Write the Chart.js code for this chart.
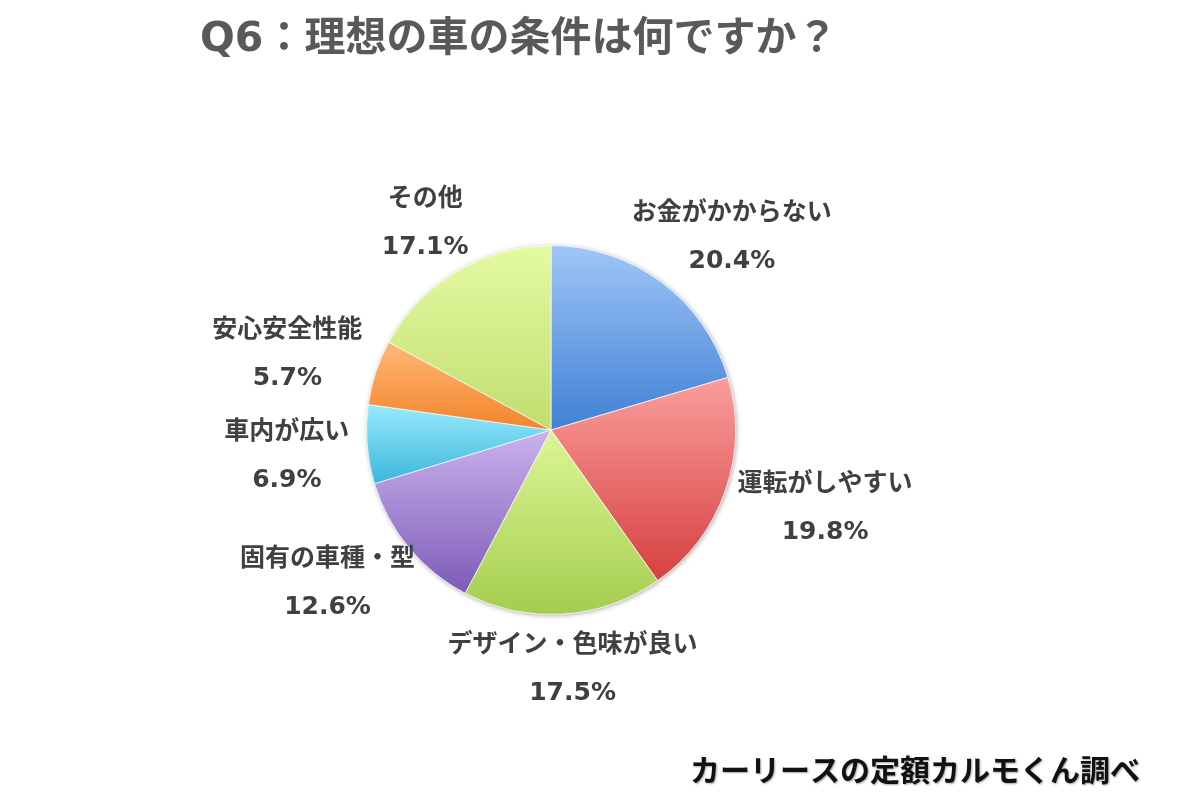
<!DOCTYPE html>
<html>
<head>
<meta charset="utf-8">
<script src="https://cdn.jsdelivr.net/npm/chart.js@4.4.1/dist/chart.umd.min.js"></script>
<style>
	html, body { margin: 0; padding: 0; background: #fff; }
	#wrap { width: 1199px; height: 800px; position: relative; }
</style>
</head>
<body>
<div id="wrap"><canvas id="myChartPie" width="1199" height="800"></canvas></div>
<script>
var titleText = 'Q6：理想の車の条件は何ですか？';
var sourceText = 'カーリースの定額カルモくん調べ';

var categories = ['お金がかからない', '運転がしやすい', 'デザイン・色味が良い', '固有の車種・型', '車内が広い', '安心安全性能', 'その他'];
var percents = [20.4, 19.8, 17.5, 12.6, 6.9, 5.7, 17.1];

// light (top) / dark (bottom) colour of each slice
var topColors = ['#a0c6f8', '#fa9e9c', '#dcf696', '#ccb2ee', '#98eafc', '#ffb878', '#e4faa2'];
var bottomColors = ['#4080d4', '#d64040', '#a4cd4e', '#7c5bb6', '#3cb6dc', '#f2852a', '#c2dd70'];

var labelFont = 'bold 25px "DejaVu Sans", "Noto Sans CJK JP", sans-serif';

var pie = {
	// vertical gradient over the height of one slice
	sliceFill: function (context) {
		var chart = context.chart;
		var i = context.dataIndex;
		var area = chart.chartArea;
		if ( !area ) {
			return bottomColors[i];
		}

		var cx = (area.left + area.right) / 2;
		var cy = (area.top + area.bottom) / 2;
		var r = Math.min(area.right - area.left, area.bottom - area.top) / 2;

		var total = 0, before = 0;
		for (var k = 0; k < percents.length; k++) {
			if ( k < i ) before += percents[k];
			total += percents[k];
		}
		var a0 = before / total * 360;
		var a1 = (before + percents[i]) / total * 360;

		var ys = [cy, cy - r * Math.cos(a0 * Math.PI / 180), cy - r * Math.cos(a1 * Math.PI / 180)];
		if ( a0 <= 0 || a1 >= 360 ) ys.push(cy - r);
		if ( a0 <= 180 && a1 >= 180 ) ys.push(cy + r);

		var g = chart.ctx.createLinearGradient(0, Math.min.apply(null, ys), 0, Math.max.apply(null, ys));
		g.addColorStop(0, topColors[i]);
		g.addColorStop(1, bottomColors[i]);
		return g;
	}, // end - sliceFill

	shadowPlugin: {
		id: 'shadowPlugin',
		beforeDatasetsDraw: function (chart) {
			var el = chart.getDatasetMeta(0).data[0];
			if ( !el ) return;
			var ctx = chart.ctx;
			ctx.save();
			ctx.beginPath();
			ctx.arc(el.x, el.y, el.outerRadius, 0, Math.PI * 2);
			ctx.fillStyle = '#ffffff';
			ctx.shadowColor = 'rgba(0, 0, 0, 0.35)';
			ctx.shadowBlur = 5;
			ctx.shadowOffsetX = 1;
			ctx.shadowOffsetY = 1;
			ctx.fill();
			ctx.restore();
		}
	}, // end - shadowPlugin

	textPlugin: {
		id: 'textPlugin',
		afterDraw: function (chart) {
			var ctx = chart.ctx;
			var meta = chart.getDatasetMeta(0);

			ctx.save();
			ctx.textBaseline = 'middle';

			// title
			ctx.font = 'bold 41px "DejaVu Sans", "Noto Sans CJK JP", sans-serif';
			ctx.fillStyle = '#595959';
			ctx.textAlign = 'left';
			ctx.fillText(titleText, 200, 40);

			// data labels outside each slice
			ctx.font = labelFont;
			ctx.fillStyle = '#404040';
			ctx.textAlign = 'center';
			var gap = 18, boxH = 76, lineGap = 24, margin = 26;
			var boxes = [];
			for (var i = 0; i < meta.data.length; i++) {
				var el = meta.data[i];
				var mid = (el.startAngle + el.endAngle) / 2;
				var dx = Math.cos(mid), dy = Math.sin(mid);
				var name = chart.data.labels[i];
				var pct = percents[i].toFixed(1) + '%';
				var w = Math.max(ctx.measureText(name).width, ctx.measureText(pct).width);
				boxes.push({
					name: name,
					pct: pct,
					left: dx < 0,
					x: el.x + dx * (el.outerRadius + gap) + dx * w / 2,
					y: el.y + dy * (el.outerRadius + gap) + dy * boxH / 2
				});
			}

			// left side labels: push a label down when the next one sits on it
			for (var j = boxes.length - 2; j >= 0; j--) {
				var a = boxes[j], b = boxes[j + 1];
				if ( a.left && b.left && a.y - b.y < boxH + margin ) {
					a.y = b.y + boxH + margin;
				}
			}

			for (var n = 0; n < boxes.length; n++) {
				ctx.fillText(boxes[n].name, boxes[n].x, boxes[n].y - lineGap);
				ctx.fillText(boxes[n].pct, boxes[n].x, boxes[n].y + lineGap);
			}

			// source note
			ctx.font = 'bold 30px "Noto Sans CJK JP", sans-serif';
			ctx.fillStyle = '#111111';
			ctx.textAlign = 'right';
			ctx.shadowColor = 'rgba(0, 0, 0, 0.35)';
			ctx.shadowBlur = 2;
			ctx.shadowOffsetX = 1;
			ctx.shadowOffsetY = 1;
			ctx.fillText(sourceText, 1140, 770);
			ctx.restore();
		}
	}, // end - textPlugin

	draw: function () {
		new Chart('myChartPie', {
			type: 'pie',
			data: {
				labels: categories,
				datasets: [{
					data: percents,
					backgroundColor: pie.sliceFill,
					borderColor: 'rgba(255, 255, 255, 0.7)',
					borderWidth: 1
				}]
			},
			options: {
				responsive: false,
				animation: false,
				layout: {
					padding: { top: 245, bottom: 185, left: 366, right: 463 }
				},
				plugins: {
					legend: { display: false },
					tooltip: { enabled: false }
				}
			},
			plugins: [pie.shadowPlugin, pie.textPlugin]
		});
	} // end - draw
};

pie.draw();
</script>
</body>
</html>
